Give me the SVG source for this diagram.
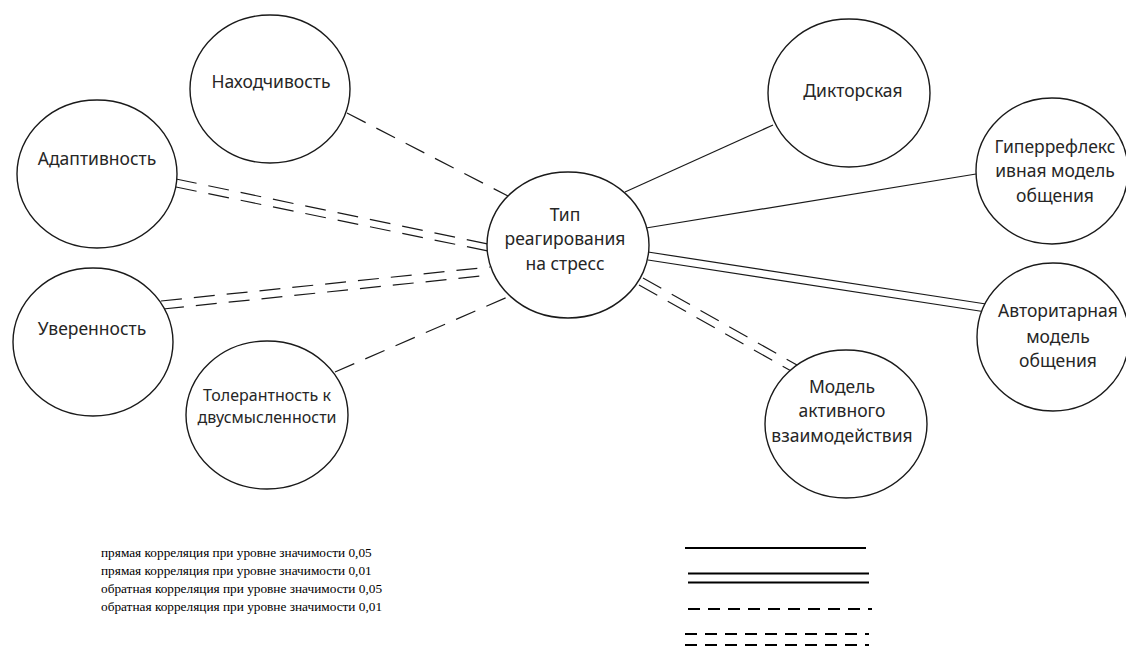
<svg xmlns="http://www.w3.org/2000/svg" width="1126" height="646" viewBox="0 0 1126 646">
<style>
.node ellipse{fill:#fff;stroke:#1a1a1a;stroke-width:1.4}
.node text{font-family:"Noto Sans","Open Sans",sans-serif;font-size:17.5px;fill:#262626;text-anchor:middle}
.node text.s{font-size:16px}
.c line{stroke:#1a1a1a;stroke-width:1.2;fill:none}
.c .d{stroke-dasharray:21 12}
.lg text{font-family:"Liberation Serif",serif;font-size:13.3px;fill:#000}
.lg line{stroke:#000;stroke-width:2}
.lg .d{stroke-dasharray:12 8}
</style>
<rect width="1126" height="646" fill="#fff"/>
<g id="connectors" class="c">
<line class="d" x1="347" y1="113" x2="508" y2="196"/>
<line class="d" x1="176" y1="179" x2="488" y2="244"/>
<line class="d" x1="176" y1="187" x2="488" y2="251"/>
<line class="d" x1="161" y1="301" x2="490" y2="267"/>
<line class="d" x1="163" y1="309" x2="491" y2="275"/>
<line class="d" x1="335" y1="372" x2="510" y2="296"/>
<line x1="773" y1="125" x2="625" y2="192"/>
<line x1="976" y1="174" x2="646" y2="228"/>
<line x1="648" y1="252" x2="986" y2="304"/>
<line x1="648" y1="260" x2="986" y2="312"/>
<line class="d" x1="643" y1="278" x2="797" y2="365"/>
<line class="d" x1="639" y1="285" x2="793" y2="372"/>
</g>
<g id="n-nahod" class="node"><ellipse cx="270" cy="89" rx="80" ry="74"/><text x="271" y="88">Находчивость</text></g>
<g id="n-adapt" class="node"><ellipse cx="97" cy="174" rx="80" ry="74"/><text x="97" y="165">Адаптивность</text></g>
<g id="n-uver" class="node"><ellipse cx="93" cy="342" rx="80" ry="74"/><text x="92" y="335">Уверенность</text></g>
<g id="n-toler" class="node"><ellipse cx="267" cy="415" rx="81" ry="74"/><text class="s" x="267" y="401">Толерантность к</text><text class="s" x="267" y="423">двусмысленности</text></g>
<g id="n-center" class="node"><ellipse cx="568" cy="245" rx="81" ry="73"/><text x="565" y="221">Тип</text><text x="565" y="245">реагирования</text><text x="565" y="270">на стресс</text></g>
<g id="n-diktor" class="node"><ellipse cx="849" cy="93" rx="81" ry="74"/><text x="853" y="97">Дикторская</text></g>
<g id="n-giper" class="node"><ellipse cx="1052" cy="171" rx="76" ry="73"/><text x="1055" y="153">Гиперрефлекс</text><text x="1055" y="177">ивная модель</text><text x="1055" y="202">общения</text></g>
<g id="n-avtor" class="node"><ellipse cx="1053" cy="337" rx="76" ry="74"/><text x="1058" y="317">Авторитарная</text><text x="1058" y="343">модель</text><text x="1058" y="367">общения</text></g>
<g id="n-model" class="node"><ellipse cx="846" cy="424" rx="81" ry="74"/><text x="842" y="393">Модель</text><text x="842" y="417">активного</text><text x="842" y="442">взаимодействия</text></g>
<g id="legend" class="lg">
<text x="101" y="557">прямая корреляция при уровне значимости 0,05</text>
<text x="101" y="575">прямая корреляция при уровне значимости 0,01</text>
<text x="101" y="593">обратная корреляция при уровне значимости 0,05</text>
<text x="101" y="611">обратная корреляция при уровне значимости 0,01</text>
<line x1="685" y1="548" x2="866" y2="548"/>
<line x1="688" y1="573.5" x2="869" y2="573.5"/>
<line x1="688" y1="582.5" x2="869" y2="582.5"/>
<line class="d" x1="688" y1="609" x2="872" y2="609"/>
<line class="d" x1="685" y1="634" x2="869" y2="634"/>
<line class="d" x1="685" y1="645" x2="869" y2="645" stroke="#999"/>
</g>
</svg>
